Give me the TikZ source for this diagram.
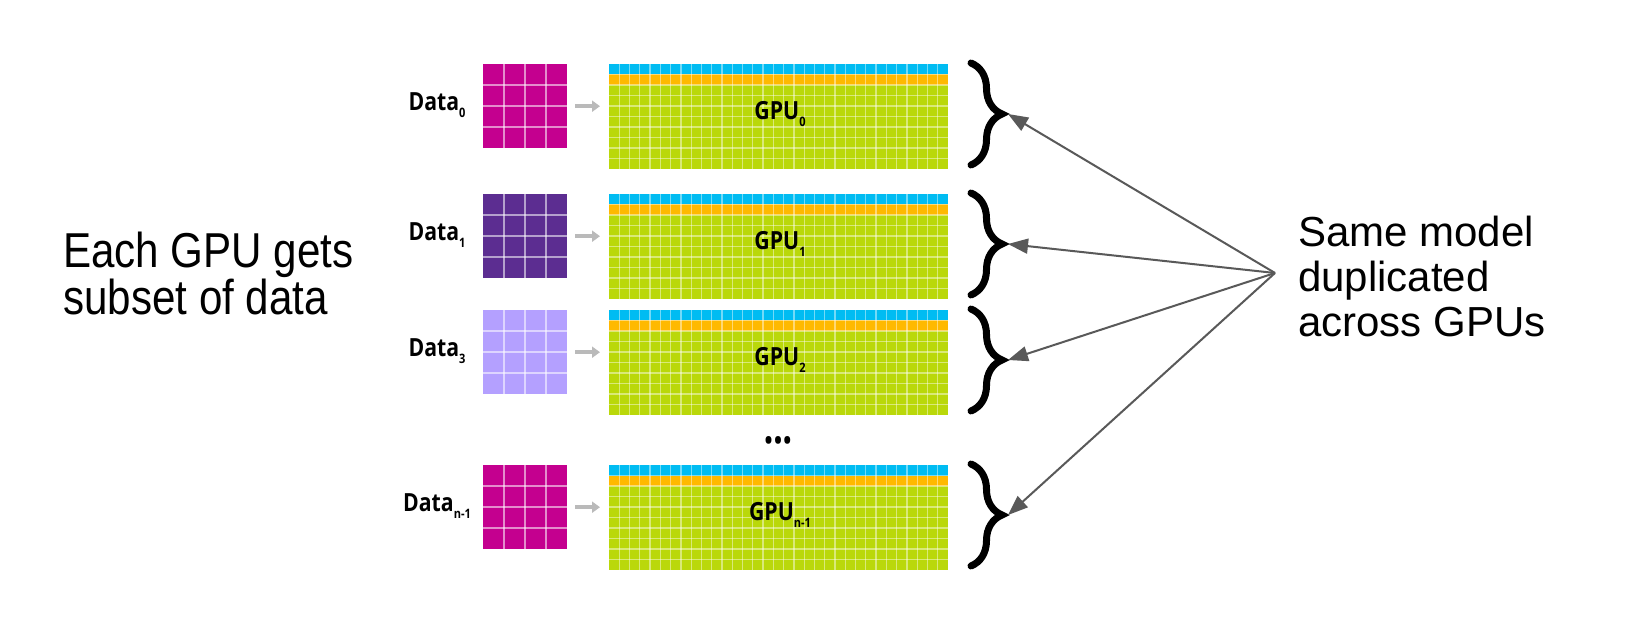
\documentclass[tikz,border=0pt]{standalone}
\usepackage{fontspec}
\setmainfont{Liberation Sans}
\newfontfamily\labelfont[FakeStretch=0.85]{Open Sans}
\newfontfamily\tallfont[FakeStretch=0.86]{Liberation Sans}
\usepackage{tikz}
\usetikzlibrary{arrows.meta,decorations.pathreplacing}

\definecolor{gpublue}{HTML}{00BCF2}
\definecolor{gpuorange}{HTML}{FFB900}
\definecolor{gpugreen}{HTML}{BAD80A}
\definecolor{datamagenta}{HTML}{C4008F}
\definecolor{datapurple}{HTML}{5C2D91}
\definecolor{datalilac}{HTML}{B4A0FF}
\newcommand{\lowidx}[1]{\raisebox{-7pt}{\fontsize{13}{13}\selectfont #1}}

\begin{document}
\begin{tikzpicture}[x=1pt,y=-1pt,
  gpulines/.style={white,opacity=0.45,line width=1.2pt},
  datalines/.style={white,opacity=0.55,line width=1.6pt},
  feed/.style={black!27,line width=3.5pt,shorten <=8pt,shorten >=9pt,-{Triangle[length=8pt,width=11pt]}},
  curly/.style={decorate,decoration={brace,amplitude=31pt},line width=7pt,line cap=round},
  dup/.style={black!65,line width=2pt,-{Triangle[length=20pt,width=15pt]}},
  boxtag/.style={font=\labelfont\bfseries\fontsize{25}{25}\selectfont,inner sep=0pt},
  tilebox/.style={anchor=north west,inner sep=0pt,draw=none}]
\useasboundingbox[fill=white] (0,0) rectangle (1650,620);

\foreach \k/\ytop/\fillc/\didx/\gidx in {0/64/datamagenta/0/0,1/194/datapurple/1/1,2/310/datalilac/3/2,3/465/datamagenta/n-1/n-1}{
  \node[tilebox,fill=\fillc,minimum size=84pt] (data\k) at (483,\ytop) {};
  \foreach \c in {1,2,3}{
    \draw[datalines] ({483+21*\c},\ytop) -- ++(0,84);
    \draw[datalines] (483,{\ytop+21*\c}) -- ++(84,0);
  }
  \node[boxtag] (datalab\k) at (437,\ytop+41) {Data\lowidx{\didx}};

  \node[tilebox,fill=gpugreen,minimum width=339pt,minimum height=105pt] (gpu\k) at (609,\ytop) {};
  \fill[gpublue] (609,\ytop) rectangle (948,\ytop+10.5);
  \fill[gpuorange] (609,\ytop+10.5) rectangle (948,\ytop+21);
  \foreach \c in {1,...,32}
    \draw[gpulines] ({609+\c*339/33},\ytop) -- ++(0,105);
  \foreach \r in {1,...,9}
    \draw[gpulines] (609,{\ytop+\r*10.5}) -- ++(339,0);
  \node[boxtag] (gpulab\k) at (780,\ytop+50) {GPU\lowidx{\gidx}};

  \draw[feed] (data\k.east) -- (data\k.east -| gpu\k.west);
  \draw[curly] (971,\ytop-1) -- (971,\ytop+101);
  \coordinate (tip\k) at (1008,\ytop+50);
}
\node[boxtag] (more) at (778,443) {•\kern1.5pt•\kern1.5pt•};

\node[anchor=north west,align=left,inner sep=0pt,font=\tallfont\fontsize{49}{47}\selectfont] (split) at (63,232) {Each GPU gets\\subset of data};
\node[anchor=north west,align=left,inner sep=0pt,font=\fontsize{42}{45}\selectfont] (same) at (1298,216) {Same model\\duplicated\\across GPUs};

\coordinate (hub) at (1275,273);
\foreach \k in {0,...,3}
  \draw[dup] (hub) -- (tip\k);
\end{tikzpicture}
\end{document}
